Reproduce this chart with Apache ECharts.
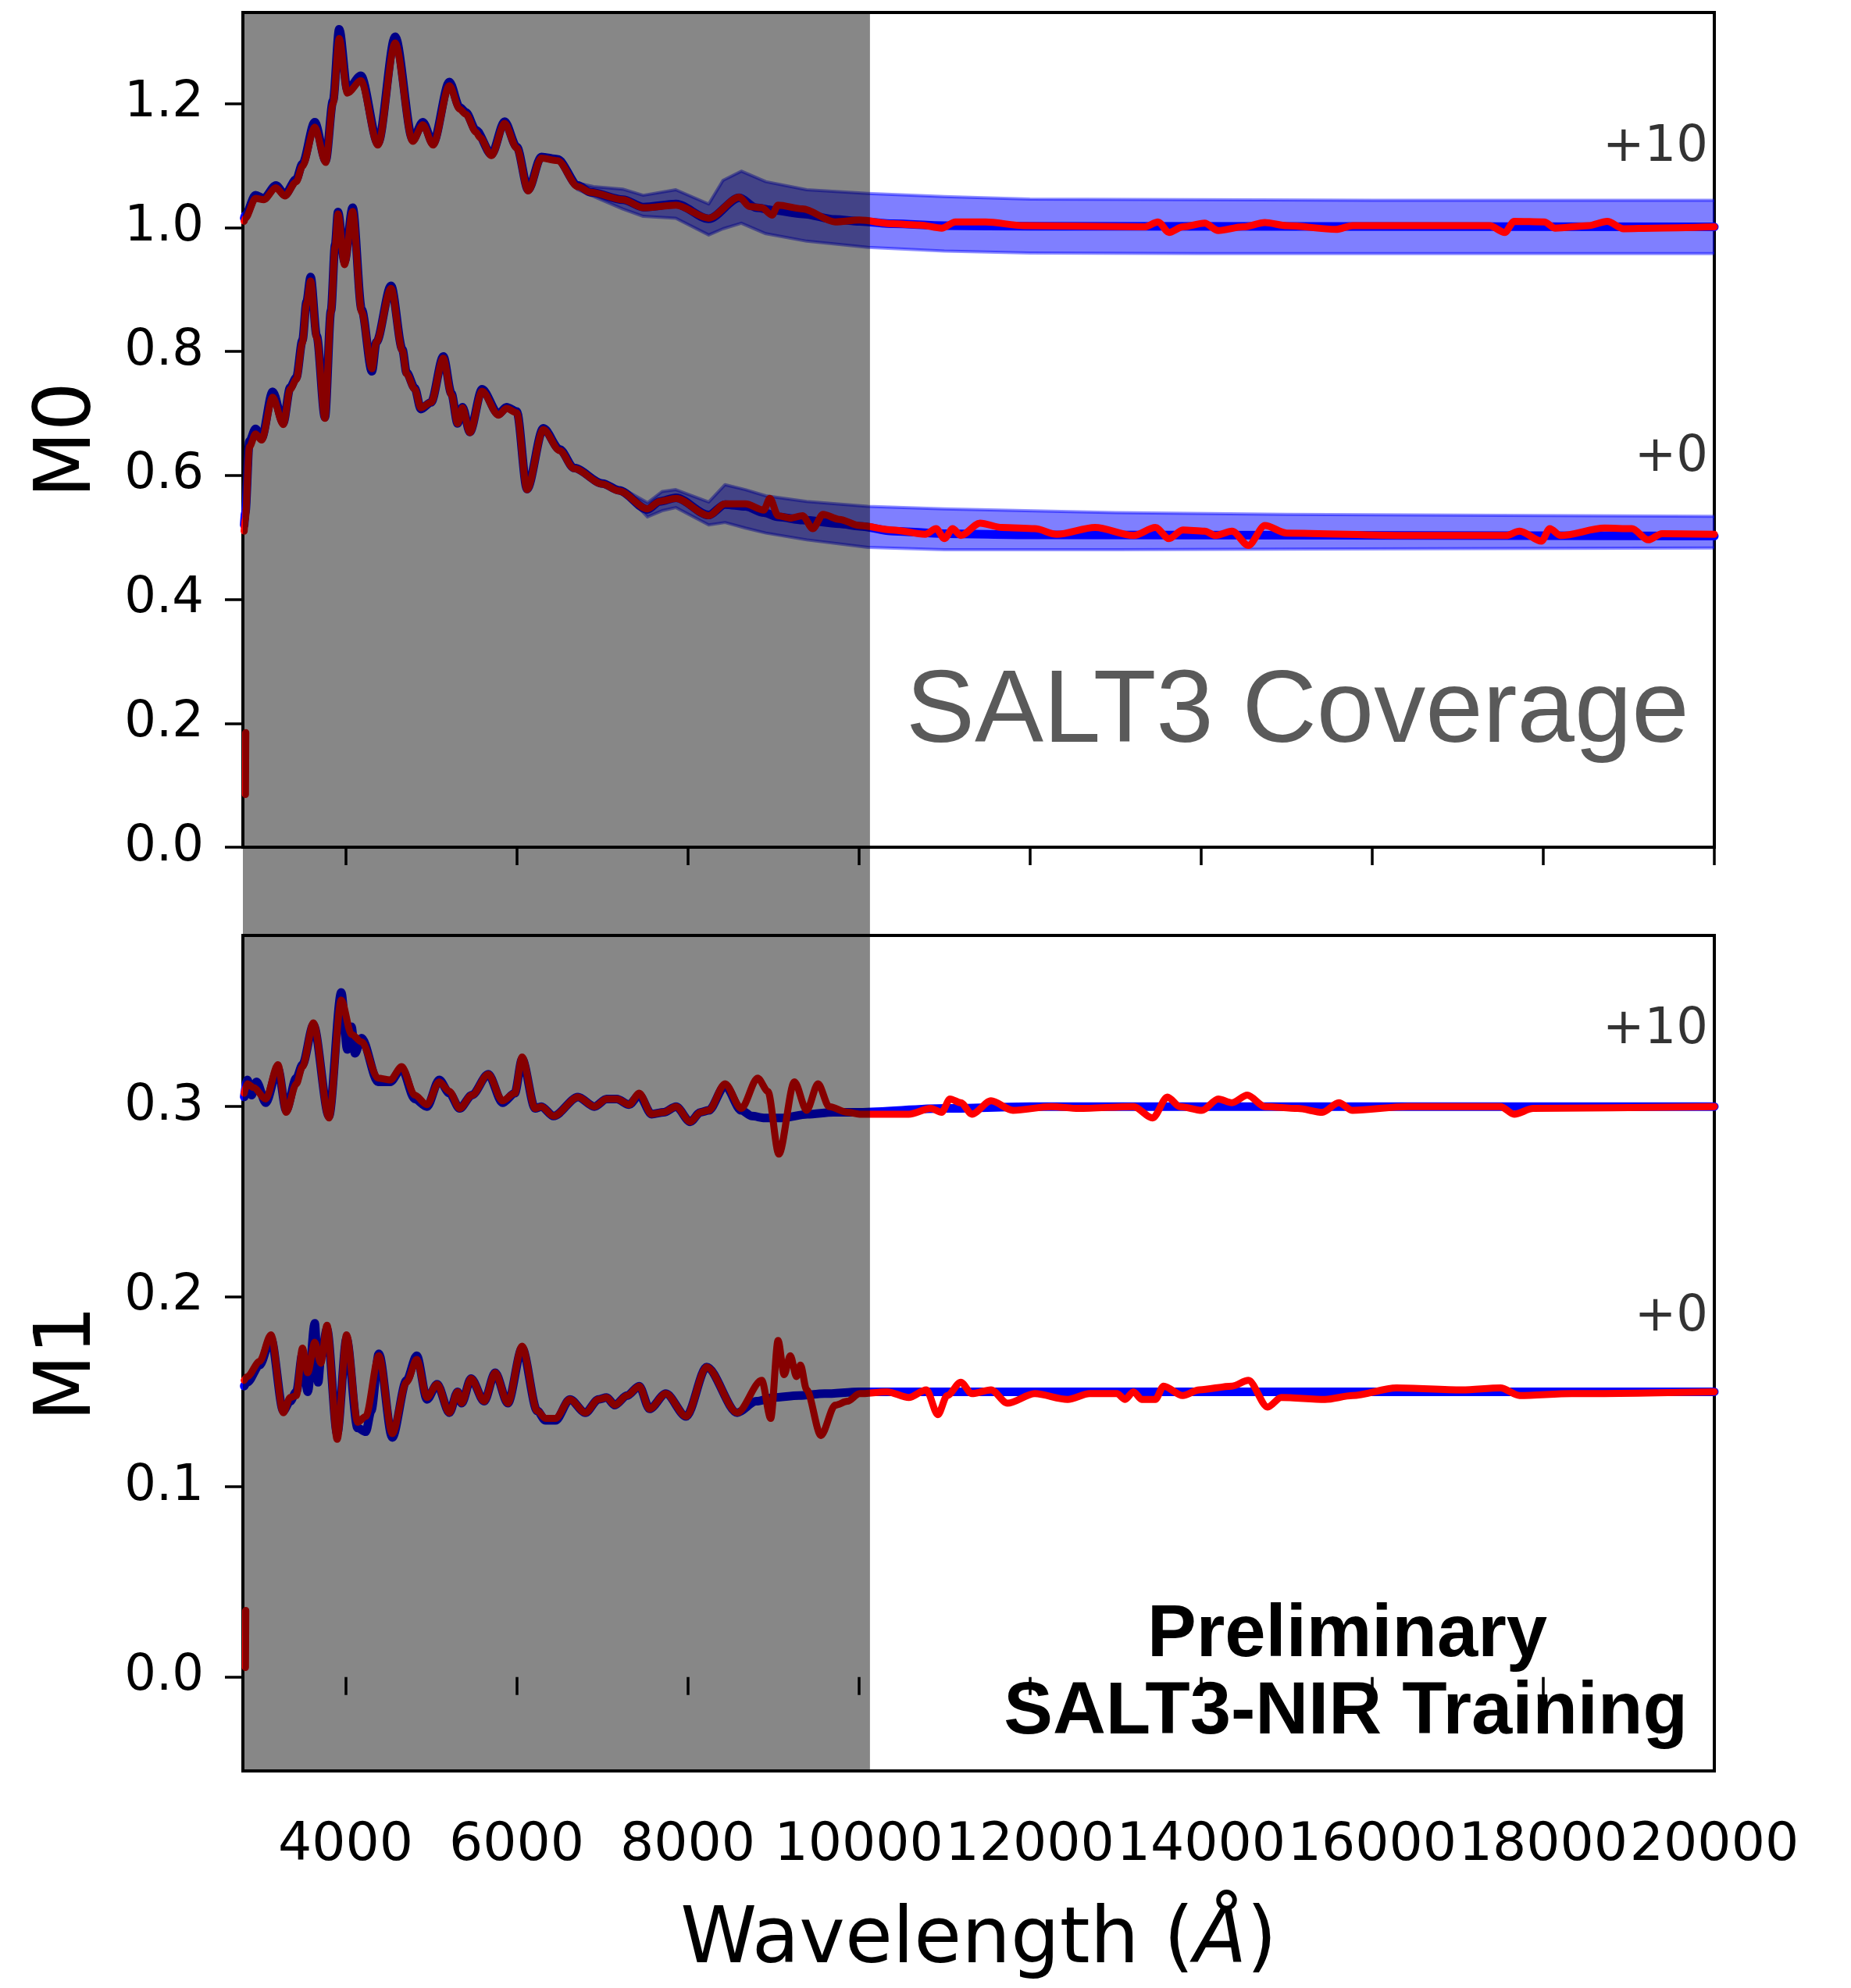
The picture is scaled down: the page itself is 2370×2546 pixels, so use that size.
<!DOCTYPE html>
<html><head><meta charset="utf-8">
<script src="https://cdn.jsdelivr.net/npm/echarts@6/dist/echarts.min.js"></script>
<style>html,body{margin:0;padding:0;background:#fff}#c{width:2370px;height:2546px}</style>
</head><body><div id="c"></div>
<script>
// ---------- data ----------
const xTicks = [4000, 6000, 8000, 10000, 12000, 14000, 16000, 18000, 20000];
const m0Ticks = [0, 0.2, 0.4, 0.6, 0.8, 1.0, 1.2];
const m1Ticks = [0, 0.1, 0.2, 0.3];
const coverage = [2800, 10130];           // SALT3 coverage (shaded)
const phaseText = ['+10', '+0'];
const m0PhaseY = [1.128, 0.628];
const m1PhaseY = [0.340, 0.189];

const m0P10Red = [[2815,1.010],[2828,1.015],[2948,1.047],[3043,1.045],[3186,1.064],[3291,1.051],[3425,1.074],[3496,1.099],[3640,1.162],[3768,1.105],[3854,1.200],[3926,1.305],[4021,1.217],[4179,1.237],[4379,1.133],[4580,1.298],[4785,1.139],[4904,1.166],[5023,1.133],[5214,1.229],[5334,1.191],[5405,1.183],[5525,1.154],[5572,1.145],[5706,1.116],[5859,1.168],[6002,1.128],[6135,1.059],[6288,1.112],[6479,1.108],[6717,1.066],[6861,1.057],[7242,1.045],[7481,1.032],[7863,1.036],[8245,1.015],[8603,1.049],[8722,1.034],[8865,1.032],[8984,1.020],[9056,1.036],[9342,1.030],[9724,1.009],[10008,1.012],[10392,1.006],[10712,1.004],[10968,0.999],[11129,1.009],[11481,1.009],[11929,1.003],[13337,1.001],[13498,1.009],[13626,0.992],[13786,1.001],[14042,1.007],[14202,0.995],[14490,1.001],[14746,1.008],[15002,1.003],[15578,0.997],[15771,1.003],[17372,1.003],[17551,0.992],[17660,1.010],[18012,1.009],[18140,0.999],[18524,1.003],[18748,1.010],[18940,0.998],[19292,0.999],[20000,1.001]];
const m0P10Blue = [[2815,1.015],[2828,1.020],[2948,1.052],[3043,1.047],[3186,1.068],[3291,1.053],[3425,1.078],[3496,1.103],[3640,1.170],[3768,1.108],[3854,1.205],[3926,1.320],[4021,1.222],[4179,1.245],[4379,1.136],[4580,1.308],[4785,1.142],[4904,1.170],[5023,1.136],[5214,1.235],[5334,1.194],[5405,1.186],[5525,1.157],[5706,1.118],[5859,1.171],[6002,1.130],[6135,1.061],[6288,1.114],[6479,1.110],[6717,1.068],[6861,1.057],[7242,1.045],[7481,1.033],[7863,1.038],[8245,1.014],[8603,1.048],[8800,1.032],[9000,1.028],[9342,1.022],[9724,1.013],[10008,1.010],[10400,1.006],[11000,1.003],[12000,1.002],[20000,1.001]];
const m0P10BandHi = [[6700,1.072],[6900,1.066],[7240,1.062],[7480,1.052],[7860,1.061],[8245,1.038],[8412,1.076],[8626,1.091],[8913,1.074],[9390,1.061],[10106,1.055],[11000,1.050],[12000,1.046],[14000,1.045],[16000,1.044],[20000,1.044]];
const m0P10BandLo = [[6700,1.062],[6900,1.050],[7240,1.030],[7480,1.018],[7860,1.015],[8245,0.988],[8412,0.998],[8626,1.007],[8913,0.990],[9390,0.978],[10106,0.968],[11000,0.962],[12000,0.959],[14000,0.958],[16000,0.958],[20000,0.958]];

const m0P0Red = [[2815,0.510],[2828,0.529],[2876,0.646],[2948,0.667],[3019,0.657],[3148,0.726],[3272,0.682],[3353,0.739],[3425,0.755],[3496,0.814],[3544,0.877],[3592,0.914],[3663,0.822],[3759,0.692],[3830,0.864],[3878,0.969],[3912,1.022],[3988,0.940],[4083,1.026],[4188,0.864],[4308,0.772],[4360,0.815],[4532,0.902],[4665,0.801],[4713,0.764],[4809,0.739],[4880,0.709],[5000,0.718],[5143,0.789],[5238,0.730],[5310,0.684],[5367,0.709],[5453,0.669],[5596,0.736],[5787,0.697],[5882,0.708],[6002,0.701],[6121,0.577],[6312,0.674],[6503,0.640],[6670,0.611],[7004,0.586],[7195,0.575],[7529,0.546],[7672,0.558],[7863,0.563],[8245,0.535],[8436,0.554],[8674,0.554],[8889,0.544],[8960,0.563],[9056,0.535],[9199,0.531],[9342,0.535],[9461,0.514],[9581,0.537],[9772,0.529],[10008,0.519],[10392,0.512],[10776,0.505],[10904,0.514],[11000,0.498],[11096,0.514],[11192,0.503],[11417,0.523],[11673,0.516],[12057,0.514],[12313,0.505],[12761,0.516],[13210,0.503],[13466,0.516],[13626,0.498],[13786,0.512],[14042,0.510],[14170,0.503],[14362,0.510],[14554,0.487],[14746,0.519],[15002,0.507],[16411,0.503],[17564,0.503],[17724,0.510],[17980,0.494],[18076,0.514],[18204,0.503],[18716,0.515],[19036,0.514],[19228,0.496],[19388,0.506],[20000,0.505]];
const m0P0Blue = [[2815,0.520],[2828,0.540],[2876,0.655],[2948,0.675],[3019,0.660],[3148,0.735],[3272,0.685],[3353,0.742],[3425,0.758],[3496,0.818],[3544,0.880],[3592,0.920],[3663,0.825],[3759,0.694],[3830,0.866],[3878,0.972],[3912,1.025],[3988,0.945],[4083,1.032],[4188,0.868],[4308,0.768],[4360,0.815],[4532,0.906],[4665,0.803],[4713,0.766],[4809,0.741],[4880,0.707],[5000,0.718],[5143,0.792],[5238,0.732],[5310,0.684],[5367,0.710],[5453,0.670],[5596,0.739],[5787,0.699],[5882,0.710],[6002,0.703],[6121,0.578],[6312,0.676],[6503,0.642],[6670,0.612],[7004,0.587],[7195,0.576],[7529,0.545],[7672,0.558],[7863,0.564],[8245,0.536],[8436,0.553],[8674,0.550],[8889,0.540],[9056,0.533],[9342,0.528],[9772,0.522],[10008,0.518],[10400,0.510],[11000,0.506],[12000,0.504],[20000,0.502]];
const m0P0BandHi = [[7300,0.574],[7530,0.556],[7700,0.574],[7860,0.577],[8245,0.557],[8436,0.585],[8674,0.577],[8913,0.567],[9390,0.558],[10106,0.550],[11000,0.546],[13000,0.540],[15000,0.537],[20000,0.534]];
const m0P0BandLo = [[7300,0.566],[7530,0.533],[7700,0.543],[7860,0.548],[8245,0.520],[8436,0.524],[8674,0.515],[8913,0.507],[9390,0.496],[10106,0.484],[11000,0.480],[13000,0.480],[15000,0.481],[20000,0.483]];

const m1P10Red = [[2815,0.307],[2852,0.312],[2924,0.310],[3067,0.304],[3210,0.322],[3306,0.297],[3425,0.312],[3496,0.321],[3625,0.344],[3806,0.294],[3950,0.356],[4069,0.338],[4188,0.334],[4379,0.315],[4522,0.314],[4656,0.321],[4809,0.306],[4952,0.301],[5095,0.313],[5214,0.308],[5334,0.299],[5477,0.306],[5668,0.317],[5835,0.303],[5978,0.307],[6064,0.326],[6216,0.299],[6288,0.300],[6431,0.295],[6717,0.305],[6908,0.300],[7052,0.304],[7171,0.304],[7314,0.301],[7433,0.307],[7577,0.296],[7720,0.297],[7863,0.300],[8030,0.292],[8149,0.297],[8245,0.298],[8436,0.312],[8626,0.299],[8817,0.315],[8937,0.308],[9065,0.275],[9247,0.313],[9390,0.298],[9523,0.312],[9652,0.300],[9867,0.297],[10008,0.296],[10584,0.296],[10840,0.299],[10968,0.297],[11065,0.304],[11192,0.302],[11321,0.296],[11545,0.303],[11801,0.298],[12249,0.300],[12569,0.299],[13210,0.300],[13434,0.294],[13607,0.305],[13754,0.300],[14010,0.298],[14202,0.304],[14362,0.302],[14541,0.306],[14746,0.300],[15130,0.299],[15418,0.297],[15611,0.302],[15771,0.298],[16411,0.300],[17500,0.300],[17660,0.296],[17884,0.299],[20000,0.300]];
const m1P10Blue = [[2815,0.305],[2852,0.314],[2900,0.306],[2960,0.313],[3067,0.302],[3210,0.320],[3306,0.298],[3425,0.315],[3496,0.322],[3625,0.343],[3806,0.295],[3950,0.360],[4020,0.330],[4069,0.342],[4110,0.328],[4188,0.336],[4379,0.313],[4522,0.313],[4656,0.320],[4809,0.304],[4952,0.300],[5095,0.314],[5214,0.307],[5334,0.299],[5477,0.306],[5668,0.317],[5835,0.302],[5978,0.307],[6064,0.325],[6216,0.299],[6288,0.300],[6431,0.295],[6717,0.305],[6908,0.300],[7052,0.304],[7171,0.304],[7314,0.301],[7433,0.306],[7577,0.296],[7720,0.297],[7863,0.300],[8030,0.292],[8149,0.297],[8245,0.298],[8436,0.311],[8626,0.298],[8750,0.295],[8900,0.294],[9100,0.294],[9400,0.296],[9700,0.297],[10008,0.297],[11000,0.299],[12000,0.300],[20000,0.300]];

const m1P0Red = [[2815,0.156],[2852,0.158],[2995,0.166],[3129,0.180],[3272,0.139],[3353,0.147],[3425,0.148],[3496,0.173],[3558,0.160],[3640,0.176],[3711,0.165],[3783,0.185],[3902,0.125],[4012,0.180],[4141,0.134],[4236,0.137],[4389,0.169],[4546,0.128],[4713,0.155],[4832,0.167],[4952,0.147],[5071,0.154],[5214,0.139],[5310,0.150],[5357,0.144],[5467,0.157],[5620,0.145],[5749,0.160],[5897,0.144],[6064,0.174],[6240,0.140],[6336,0.136],[6455,0.136],[6622,0.146],[6803,0.139],[6956,0.146],[7052,0.147],[7147,0.143],[7290,0.148],[7433,0.153],[7553,0.141],[7744,0.149],[7982,0.137],[8221,0.163],[8579,0.139],[8865,0.156],[8970,0.136],[9056,0.177],[9127,0.159],[9199,0.169],[9271,0.158],[9318,0.164],[9390,0.151],[9557,0.127],[9724,0.143],[9867,0.145],[10008,0.149],[10328,0.150],[10584,0.147],[10789,0.151],[10924,0.138],[11032,0.148],[11192,0.155],[11321,0.149],[11545,0.151],[11737,0.144],[12057,0.149],[12441,0.146],[12697,0.149],[13017,0.149],[13113,0.146],[13210,0.150],[13306,0.146],[13466,0.146],[13562,0.153],[13786,0.148],[13978,0.151],[14362,0.153],[14554,0.156],[14778,0.142],[14938,0.147],[15450,0.146],[15771,0.148],[16283,0.152],[17051,0.151],[17500,0.152],[17724,0.148],[18332,0.149],[20000,0.150]];
const m1P0Blue = [[2815,0.153],[2852,0.155],[2995,0.164],[3129,0.178],[3272,0.140],[3353,0.145],[3425,0.150],[3496,0.170],[3558,0.150],[3640,0.186],[3680,0.155],[3711,0.168],[3783,0.183],[3902,0.128],[4012,0.178],[4141,0.131],[4236,0.129],[4300,0.140],[4389,0.170],[4546,0.126],[4713,0.156],[4832,0.169],[4952,0.146],[5071,0.154],[5214,0.139],[5310,0.150],[5357,0.144],[5467,0.157],[5620,0.145],[5749,0.160],[5897,0.144],[6064,0.173],[6240,0.140],[6336,0.135],[6455,0.135],[6622,0.146],[6803,0.139],[6956,0.146],[7052,0.147],[7147,0.143],[7290,0.148],[7433,0.153],[7553,0.141],[7744,0.149],[7982,0.137],[8221,0.163],[8579,0.139],[8800,0.145],[9000,0.147],[9300,0.148],[9600,0.149],[10008,0.150],[20000,0.150]];

const m0Stub = [[2830,0.085],[2834,0.185]];
const m1Stub = [[2830,0.005],[2834,0.035]];

// ---------- chart ----------
const chart = echarts.init(document.getElementById('c'), null, {renderer: 'canvas'});
const FONT = 'DejaVu Sans';
const GL = 311, GW = 1884;

function lineS(data, color, width, xi, z, smooth) {
  return {type: 'line', data, xAxisIndex: xi, yAxisIndex: xi, symbol: 'none',
    smooth: smooth === undefined ? 0.3 : smooth, smoothMonotone: 'x', silent: true, z,
    lineStyle: {color, width, cap: 'round', join: 'round'}};
}
function bandS(hi, lo, xi) {
  return {type: 'custom', xAxisIndex: xi, yAxisIndex: xi, silent: true, z: 1,
    data: [hi[0]],
    renderItem: (params, api) => {
      const up = hi.map(p => api.coord(p));
      const dn = lo.map(p => api.coord(p));
      return {type: 'group', children: [
        {type: 'polygon', shape: {points: up.concat(dn.slice().reverse())},
         style: {fill: 'rgba(0,0,255,0.5)'}},
        {type: 'polyline', shape: {points: up}, style: {stroke: 'rgba(0,0,255,0.45)', lineWidth: 4, fill: null, lineJoin: 'round'}},
        {type: 'polyline', shape: {points: dn}, style: {stroke: 'rgba(0,0,255,0.45)', lineWidth: 4, fill: null, lineJoin: 'round'}}
      ]};
    }};
}
function overlayS(xi, y0) {
  return {type: 'line', xAxisIndex: xi, yAxisIndex: xi, data: [[coverage[0], y0]], symbol: 'none',
    lineStyle: {width: 0}, silent: true, z: 20,
    markArea: {silent: true, z: 20, itemStyle: {color: 'rgba(0,0,0,0.47)'},
      data: [[{xAxis: coverage[0]}, {xAxis: coverage[1]}]]}};
}
function phaseS(ys, xi) {
  return {type: 'scatter', xAxisIndex: xi, yAxisIndex: xi, symbolSize: 0, silent: true, z: 5,
    data: ys.map((y, i) => [20000, y, phaseText[i]]),
    label: {show: true, position: 'left', distance: 8, formatter: p => p.value[2],
      fontFamily: FONT, fontSize: 64, color: '#000'}};
}
const tickStyle = {show: true, inside: false, length: 23, lineStyle: {color: '#000', width: 3.5}};
const yLabel = {fontFamily: FONT, fontSize: 64, color: '#000', margin: 50, formatter: v => v.toFixed(1)};
const yName = {fontFamily: FONT, fontSize: 99, color: '#000', padding: [0, 26, 0, 0]};

chart.setOption({
  animation: false,
  backgroundColor: '#fff',
  grid: [
    {left: GL, top: 16, width: GW, height: 1069, show: true, borderColor: '#000', borderWidth: 4, backgroundColor: 'transparent'},
    {left: GL, top: 1198, width: GW, height: 1070, show: true, borderColor: '#000', borderWidth: 4, backgroundColor: 'transparent'},
    {left: GL, top: 1085, width: GW, height: 113, show: false}
  ],
  xAxis: [
    {gridIndex: 0, type: 'value', min: 2800, max: 20000, axisLine: {show: false},
     axisTick: Object.assign({customValues: xTicks}, tickStyle), axisLabel: {show: false}, splitLine: {show: false}},
    {gridIndex: 1, type: 'value', min: 2800, max: 20000, axisLine: {show: false},
     axisTick: Object.assign({customValues: xTicks}, tickStyle),
     axisLabel: {customValues: xTicks, fontFamily: FONT, fontSize: 68, color: '#000', margin: 62,
       showMaxLabel: true, showMinLabel: true, hideOverlap: false, formatter: v => String(Math.round(v))},
     splitLine: {show: false},
     name: 'Wavelength ({i|Å})', nameLocation: 'middle', nameGap: 170,
     nameTextStyle: {fontFamily: FONT, fontSize: 99, color: '#000',
       rich: {i: {fontFamily: FONT, fontSize: 99, fontStyle: 'italic', color: '#000'}}}},
    {gridIndex: 2, type: 'value', min: 2800, max: 20000, show: false}
  ],
  yAxis: [
    {gridIndex: 0, type: 'value', min: 0, max: 1.347, axisLine: {show: false},
     axisTick: Object.assign({customValues: m0Ticks}, tickStyle),
     axisLabel: Object.assign({customValues: m0Ticks}, yLabel), splitLine: {show: false},
     name: 'M0', nameLocation: 'middle', nameGap: 172, nameTextStyle: yName},
    {gridIndex: 1, type: 'value', min: -0.0494, max: 0.39, axisLine: {show: false},
     axisTick: Object.assign({customValues: m1Ticks}, tickStyle),
     axisLabel: Object.assign({customValues: m1Ticks}, yLabel), splitLine: {show: false},
     name: 'M1', nameLocation: 'middle', nameGap: 172, nameTextStyle: yName},
    {gridIndex: 2, type: 'value', min: 0, max: 1, show: false}
  ],
  graphic: [
    {type: 'text', x: 1160, y: 914, silent: true, z: 30,
     style: {text: 'SALT3 Coverage', font: '132px "Liberation Sans"', fill: '#5a5a5a', align: 'left', verticalAlign: 'middle'}},
    {type: 'text', x: 1725, y: 2095, silent: true, z: 30,
     style: {text: 'Preliminary', font: 'bold 94px "Liberation Sans"', fill: '#000', align: 'center', verticalAlign: 'middle'}},
    {type: 'text', x: 1723, y: 2194, silent: true, z: 30,
     style: {text: 'SALT3-NIR Training', font: 'bold 94px "Liberation Sans"', fill: '#000', align: 'center', verticalAlign: 'middle'}}
  ],
  series: [
    bandS(m0P10BandHi, m0P10BandLo, 0),
    bandS(m0P0BandHi, m0P0BandLo, 0),
    lineS(m0P10Blue, '#0000ff', 11, 0, 2),
    lineS(m0P0Blue, '#0000ff', 11, 0, 2),
    lineS(m0P10Red, '#ff0000', 9, 0, 3),
    lineS(m0P0Red, '#ff0000', 9, 0, 3),
    lineS(m0Stub, '#ff0000', 9, 0, 3, false),
    lineS(m1P10Blue, '#0000ff', 11, 1, 2),
    lineS(m1P0Blue, '#0000ff', 11, 1, 2),
    lineS(m1P10Red, '#ff0000', 9, 1, 3),
    lineS(m1P0Red, '#ff0000', 9, 1, 3),
    lineS(m1Stub, '#ff0000', 9, 1, 3, false),
    phaseS(m0PhaseY, 0),
    phaseS(m1PhaseY, 1),
    overlayS(0, 0.5),
    overlayS(1, 0.1),
    overlayS(2, 0.5)
  ]
});
</script>
</body></html>
